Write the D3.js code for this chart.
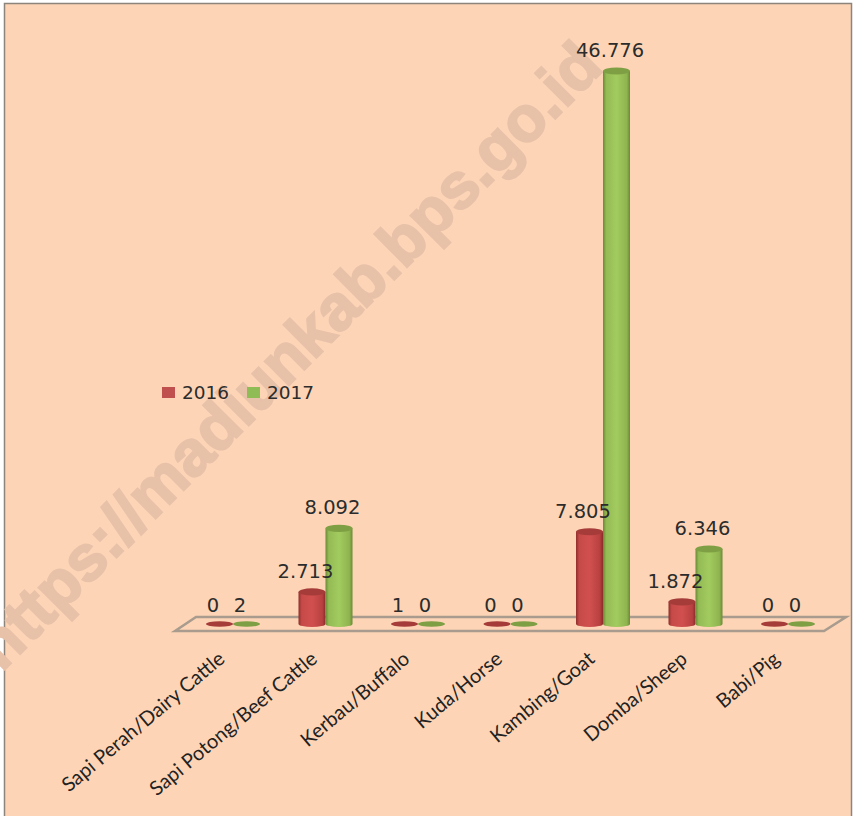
<!DOCTYPE html>
<html><head><meta charset="utf-8">
<script src="https://cdn.jsdelivr.net/npm/d3@7"></script>
<style>html,body{margin:0;padding:0;background:#fff}svg{display:block}</style>
</head><body><svg id="c" width="853" height="816"></svg>
<script>
const categories=["Sapi Perah/Dairy Cattle","Sapi Potong/Beef Cattle","Kerbau/Buffalo","Kuda/Horse","Kambing/Goat","Domba/Sheep","Babi/Pig"];
const seriesNames=["2016","2017"];
const values2016=[0,2713,1,0,7805,1872,0];
const values2017=[2,8092,0,0,46776,6346,0];
const seriesColors=["#c0504d","#8fbc55"];
const watermark="https://madiunkab.bps.go.id";

const svg=d3.select("#c");
const defs=svg.append("defs");
const grad=(id,stops)=>{const g=defs.append("linearGradient").attr("id",id);
  stops.forEach(([o,c])=>g.append("stop").attr("offset",o).attr("stop-color",c));};
grad("g0",[[0,"#8f2f2d"],[.12,"#c64a48"],[.5,"#d1504f"],[.88,"#b84140"],[1,"#8a2c2a"]]);
grad("g1",[[0,"#6b8a35"],[.12,"#94bb55"],[.5,"#a2cb5f"],[.88,"#8fb450"],[1,"#6b8a35"]]);
const topCol=["#a63c3a","#7f9f44"];

svg.append("rect").attr("x",4.5).attr("y",3.5).attr("width",847).attr("height",815)
  .attr("fill","#fdd5b6").attr("stroke","#8d857c").attr("stroke-width",1.5);

svg.append("text").text(watermark).attr("text-anchor","end")
  .attr("transform","translate(605,69) rotate(-45)")
  .attr("font-family","'Liberation Sans'").attr("font-weight","bold").attr("font-size",64)
  .attr("fill","#e8c1a9").attr("stroke","#e8c1a9").attr("stroke-width",2.2);

svg.append("path").attr("d","M175,631L196,617L846,617L824,631Z")
  .attr("fill","none").attr("stroke","#a99c8e").attr("stroke-width",2.6);

const x=d3.scaleBand().domain(categories).range([186.75,834.25]);
const inner=d3.scaleBand().domain(seriesNames).range([-27,27]);
const y=d3.scaleLinear().domain([0,46776]).range([624,71]);
const fmt=d3.formatLocale({decimal:",",thousands:".",grouping:[3],currency:["",""]}).format(",d");
const rows=[];
seriesNames.forEach((s,i)=>{const vals=i?values2017:values2016;
  vals.forEach((v,j)=>rows.push({s,i,v,c:categories[j]}));});
const cx=d=>x(d.c)+x.bandwidth()/2+inner(d.s)+inner.bandwidth()/2;
const w=inner.bandwidth();

const marks=svg.append("g").selectAll("g").data(rows).join("g");
marks.each(function(d){
  const g=d3.select(this),c=cx(d),t=y(d.v);
  if(d.v<10){
    g.append("ellipse").attr("cx",c).attr("cy",y(0)).attr("rx",w/2).attr("ry",2.8).attr("fill",topCol[d.i]);
  }else{
    g.append("path").attr("d",`M${c-w/2},${t}L${c-w/2},${y(0)}A${w/2},3 0 0 0 ${c+w/2},${y(0)}L${c+w/2},${t}Z`)
      .attr("fill",`url(#g${d.i})`);
    g.append("ellipse").attr("cx",c).attr("cy",t).attr("rx",w/2).attr("ry",3.6).attr("fill",topCol[d.i]);
  }
});
svg.append("g").selectAll("text").data(rows).join("text")
  .text(d=>fmt(d.v)).attr("x",d=>cx(d)-6.5).attr("y",d=>y(d.v)-(d.v<10?12:14))
  .attr("text-anchor","middle").attr("font-family","'DejaVu Sans'").attr("font-size",19.5).attr("fill","#2c2c2c");

svg.append("g").selectAll("text").data(categories).join("text").text(d=>d)
  .attr("text-anchor","end")
  .attr("transform",d=>`translate(${x(d)+x.bandwidth()/2-7},661) rotate(-40)`)
  .attr("font-family","Lato").attr("font-size",20).attr("fill","#222");

const lx=d3.scaleOrdinal().domain(seriesNames).range([162,247]);
const leg=svg.append("g").selectAll("g").data(seriesNames).join("g");
leg.append("rect").attr("x",d=>lx(d)).attr("y",387).attr("width",13).attr("height",11)
  .attr("fill",(d,i)=>seriesColors[i]);
leg.append("text").text(d=>d).attr("x",d=>lx(d)+20).attr("y",398.5)
  .attr("font-family","'DejaVu Sans'").attr("font-size",18.5).attr("fill","#2c2c2c");
</script></body></html>
